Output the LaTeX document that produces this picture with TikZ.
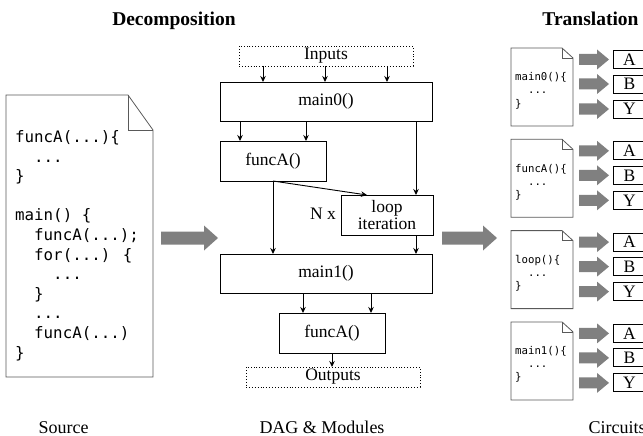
\documentclass[tikz,border=0pt]{standalone}
\usepackage{fontspec}
\setmainfont{Liberation Serif}
\newfontfamily\codefont{DejaVu Sans Mono}
\usetikzlibrary{arrows.meta}
\definecolor{arrgray}{gray}{0.5}
\definecolor{docgray}{gray}{0.35}
\newcommand\indA{\hphantom{xx}}
\newcommand\indB{\hphantom{xxxx}}
\newcommand\docshape[6]{%
  \draw[docline] (#1,#2) -- ({#3-#5},#2) -- (#3,{#2+#6}) -- (#3,#4) -- (#1,#4) -- cycle;
  \draw[docline] ({#3-#5},#2) -- ({#3-#5},{#2+#6}) -- (#3,{#2+#6});}
\newcommand\blockarr[6]{% tail x, centre y, neck x, tip x, shaft half, head half
  \fill[arrgray] (#1,{#2-#5}) -- (#3,{#2-#5}) -- (#3,{#2-#6}) -- (#4,#2) -- (#3,{#2+#6}) -- (#3,{#2+#5}) -- (#1,{#2+#5}) -- cycle;}
\begin{document}
\begin{tikzpicture}[x=1pt,y=-1pt,
  docline/.style={draw=docgray, line width=0.8pt},
  mbox/.style={draw, line width=0.9pt, inner sep=0pt, outer sep=0pt, align=center,
    font=\fontsize{17.5}{16.5}\selectfont},
  dbox/.style={draw, dotted, line width=0.9pt, inner sep=0pt, outer sep=0pt,
    font=\fontsize{17.5}{16.5}\selectfont},
  abox/.style={draw, line width=0.9pt, inner sep=0pt, outer sep=0pt,
    minimum width=33pt, minimum height=18pt, font=\fontsize{17.5}{18}\selectfont},
  arr/.style={-{Stealth[length=6pt,width=5.5pt]}, line width=0.9pt},
  code/.style={anchor=base west, inner sep=0pt, font=\codefont\fontsize{15.8}{19}\selectfont},
  scode/.style={anchor=base west, inner sep=0pt, font=\codefont\fontsize{10.7}{13}\selectfont},
  title/.style={anchor=base, inner sep=0pt, font=\bfseries\fontsize{19.5}{20}\selectfont},
  caption/.style={anchor=base, inner sep=0pt, font=\fontsize{18}{20}\selectfont}]
\clip (0,0) rectangle (643,436);

% titles and captions
\node[title] (tdec) at (174,26) {Decomposition};
\node[title] (ttra) at (590.5,26) {Translation};
\node[caption] (csrc) at (63.5,433) {Source};
\node[caption] (cdag) at (322,433) {DAG \& Modules};
\node[caption] (ccir) at (617,433) {Circuits};

% source document
\docshape{6}{95}{153}{377}{25}{35}
\node[code] (c0) at (15,142.5) {funcA(...)\{};
\node[code] (c1) at (15,162.1) {\indA...};
\node[code] (c2) at (15,181.7) {\}};
\node[code] (c4) at (15,220.9) {main() \{};
\node[code] (c5) at (15,240.5) {\indA funcA(...);};
\node[code] (c6) at (15,260.1) {\indA for(...) \{};
\node[code] (c7) at (15,279.7) {\indB...};
\node[code] (c8) at (15,299.3) {\indA\}};
\node[code] (c9) at (15,318.9) {\indA...};
\node[code] (c10) at (15,338.5) {\indA funcA(...)};
\node[code] (c11) at (15,358.1) {\}};

% big gray arrows
\blockarr{161}{238}{204}{218}{6.5}{12.5}
\blockarr{442}{238}{483}{497}{6.5}{12.5}

% DAG
\node[dbox, minimum width=174pt, minimum height=20pt] (inputs) at (326,56) {Inputs};
\node[mbox, minimum width=212pt, minimum height=39pt] (main0) at (326,101.5) {main0()};
\node[mbox, minimum width=106pt, minimum height=40pt] (funcA) at (273,161) {funcA()};
\node[mbox, minimum width=92pt, minimum height=40pt] (loop) at (387,215) {loop\\iteration};
\node[mbox, minimum width=212pt, minimum height=39pt] (main1) at (326,273.5) {main1()};
\node[mbox, minimum width=106pt, minimum height=40pt] (funcA2) at (332,333) {funcA()};
\node[dbox, minimum width=174pt, minimum height=20pt] (outputs) at (333,377) {Outputs};
\node[anchor=east, inner sep=0pt, font=\fontsize{17.5}{18}\selectfont] (nx) at (336,214) {N x};

\draw[arr] ([xshift=-63pt]inputs.south) -- ([xshift=-63pt]main0.north);
\draw[arr] ([xshift=-1pt]inputs.south) -- ([xshift=-1pt]main0.north);
\draw[arr] ([xshift=61pt]inputs.south) -- ([xshift=61pt]main0.north);
\coordinate (fa1) at ([xshift=-33pt]funcA.north);
\coordinate (fa2) at ([xshift=33pt]funcA.north);
\draw[arr] (fa1 |- main0.south) -- (fa1);
\draw[arr] (fa2 |- main0.south) -- (fa2);
\coordinate (lpt) at ([xshift=29pt]loop.north);
\coordinate (lpb) at ([xshift=29pt]loop.south);
\draw[arr] (lpt |- main0.south) -- (lpt);
\draw[arr] (funcA.south) -- ([xshift=-20pt]loop.north);
\draw[arr] (funcA.south) -- (funcA.south |- main1.north);
\draw[arr] (lpb) -- (lpb |- main1.north);
\coordinate (f2a) at ([xshift=-29pt]funcA2.north);
\coordinate (f2b) at ([xshift=39pt]funcA2.north);
\draw[arr] (f2a |- main1.south) -- (f2a);
\draw[arr] (f2b |- main1.south) -- (f2b);
\draw[arr] (funcA2.south) -- (funcA2.south |- outputs.north);

% translation column
\foreach \k/\nm in {0/main0,1/funcA,2/loop,3/main1}{
  \pgfmathsetmacro\T{48+91.3*\k}
  \pgfmathsetmacro\B{\T+78}
  \docshape{511}{\T}{573}{\B}{11}{10}
  \node[scode] (s\k a) at (515,\T+33) {\nm()\{};
  \node[scode] (s\k b) at (515,\T+46) {\indA...};
  \node[scode] (s\k c) at (515,\T+59) {\}};
  \blockarr{579}{\T+11.5}{597}{609}{5.5}{10}
  \blockarr{579}{\T+36}{597}{609}{5.5}{10}
  \blockarr{579}{\T+61}{597}{609}{5.5}{10}
  \node[abox] (a\k) at (629.5,\T+11.5) {A};
  \node[abox] (b\k) at (629.5,\T+36) {B};
  \node[abox] (y\k) at (629.5,\T+61) {Y};
}
\end{tikzpicture}
\end{document}
